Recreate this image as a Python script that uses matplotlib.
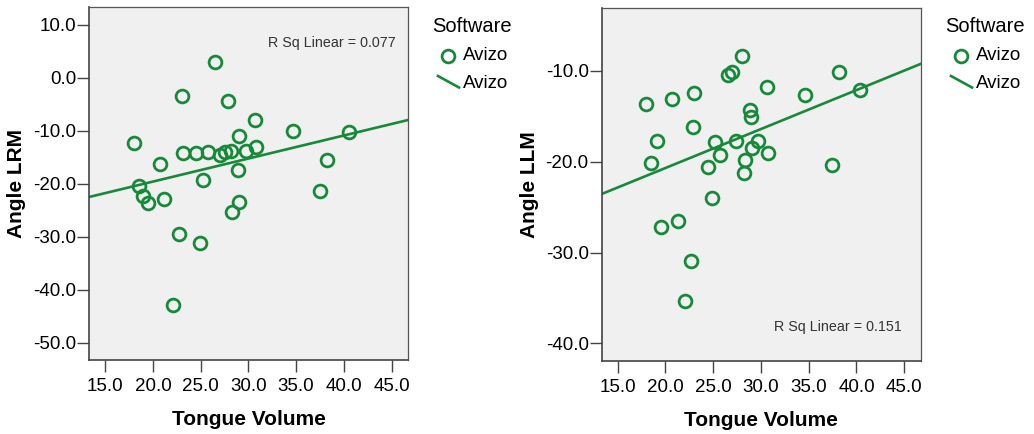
import numpy as np
import matplotlib
matplotlib.use("Agg")
import matplotlib.pyplot as plt
from matplotlib.lines import Line2D

plt.rcParams["font.family"] = ["Liberation Sans", "DejaVu Sans"]
plt.rcParams["axes.unicode_minus"] = False

# Tongue volume vs. angle, left (LRM) and right (LLM) measurements
volume_lrm = [18.0, 18.5, 19.0, 19.5, 21.2, 20.7, 23.0, 23.1, 24.5, 25.8,
              25.2, 26.5, 27.9, 27.0, 27.5, 28.2, 29.0, 29.7, 28.9, 30.7,
              30.8, 34.7, 40.5, 38.2, 37.5, 29.0, 28.3, 22.7, 24.9, 22.1]
angle_lrm = [-12.4, -20.4, -22.3, -23.7, -22.9, -16.3, -3.4, -14.2, -14.2, -14.1,
             -19.4, 3.0, -4.3, -14.6, -14.1, -13.8, -11.0, -13.8, -17.4, -7.9,
             -13.1, -10.1, -10.2, -15.5, -21.4, -23.5, -25.3, -29.6, -31.3, -42.9]

volume_llm = [18.0, 19.1, 18.5, 20.7, 23.0, 22.9, 25.2, 25.7, 24.5, 24.9,
              26.5, 27.0, 28.0, 27.4, 28.9, 29.0, 29.7, 29.1, 28.3, 28.2,
              30.7, 30.6, 34.6, 38.2, 40.4, 37.4, 19.5, 21.3, 22.7, 22.1]
angle_llm = [-13.6, -17.7, -20.1, -13.1, -12.4, -16.2, -17.8, -19.3, -20.6, -24.0,
             -10.4, -10.1, -8.4, -17.7, -14.3, -15.1, -17.7, -18.5, -19.8, -21.2,
             -19.0, -11.8, -12.6, -10.1, -12.1, -20.4, -27.2, -26.5, -30.9, -35.3]

x_ticks = [15.0, 20.0, 25.0, 30.0, 35.0, 40.0, 45.0]
y_ticks_lrm = [10.0, 0.0, -10.0, -20.0, -30.0, -40.0, -50.0]
y_ticks_llm = [-10.0, -20.0, -30.0, -40.0]

r2_text_lrm = "R Sq Linear = 0.077"
r2_text_llm = "R Sq Linear = 0.151"
legend_title = "Software"
group_label = "Avizo"

GREEN = "#178a3a"
FACE = "#f0f0f0"
W, H = 1034, 434
MS, MEW, LW = 9.2, 2.0, 1.9

fig = plt.figure(figsize=(W / 100, H / 100), dpi=100)


def fx(px):
    return px / W


def fy(py):
    return 1 - py / H


def panel(rect, xs, ys, yticks, ylim, ylabel, r2, r2_pos):
    ax = fig.add_axes(rect)
    ax.set_facecolor(FACE)
    ax.plot(xs, ys, linestyle="none", marker="o", markersize=MS,
            markerfacecolor="none", markeredgecolor=GREEN, markeredgewidth=MEW,
            zorder=3)
    xlim = (13.33, 46.72)
    slope, intercept = np.polyfit(xs, ys, 1)
    xl = np.array(xlim)
    ax.plot(xl, slope * xl + intercept, color=GREEN, linewidth=LW, zorder=2)
    ax.set_xlim(*xlim)
    ax.set_ylim(*ylim)
    ax.set_xticks(x_ticks)
    ax.set_xticklabels([f"{t:.1f}" for t in x_ticks])
    ax.set_yticks(yticks)
    ax.set_yticklabels([f"{t:.1f}" for t in yticks])
    ax.tick_params(axis="both", direction="out", length=8.6, width=1.0,
                   color="#444444", labelsize=13.5, labelcolor="black")
    ax.tick_params(axis="x", pad=4.5)
    ax.tick_params(axis="y", pad=0.8)
    for side in ("left", "bottom"):
        ax.spines[side].set_color("#444444")
        ax.spines[side].set_linewidth(1.2)
    for side in ("top", "right"):
        ax.spines[side].set_color("#555555")
        ax.spines[side].set_linewidth(0.9)
    ax.set_xlabel("Tongue Volume", fontsize=15, fontweight="bold")
    ax.set_ylabel(ylabel, fontsize=15, fontweight="bold")
    ax.xaxis.set_label_coords(0.5, -0.142)
    ax.yaxis.set_label_coords(-0.198, 0.5)
    ax.text(r2_pos[0], r2_pos[1], r2, transform=ax.transAxes, fontsize=10.3,
            color="#333333", ha="right", va="center")
    return ax


panel([fx(89.3), fy(360), fx(408) - fx(89.3), fy(7.3) - fy(360)],
      volume_lrm, angle_lrm, y_ticks_lrm, (-53.3, 13.3), "Angle LRM",
      r2_text_lrm, (0.962, 0.898))
panel([fx(601.7), fy(361), fx(920.7) - fx(601.7), fy(8.3) - fy(361)],
      volume_llm, angle_llm, y_ticks_llm, (-41.94, -3.1), "Angle LLM",
      r2_text_llm, (0.94, 0.095))


def legend(x0):
    fig.text(fx(x0), fy(27), legend_title, fontsize=14.5, ha="left",
             va="center", color="black")
    fig.add_artist(Line2D([fx(x0 + 16)], [fy(56)], linestyle="none",
                          marker="o", markersize=MS, markerfacecolor="none",
                          markeredgecolor=GREEN, markeredgewidth=MEW,
                          transform=fig.transFigure))
    fig.text(fx(x0 + 31), fy(56), group_label, fontsize=13.5, ha="left",
             va="center", color="black")
    fig.add_artist(Line2D([fx(x0 + 6), fx(x0 + 27)], [fy(76), fy(87.5)],
                          color=GREEN, linewidth=LW,
                          transform=fig.transFigure))
    fig.text(fx(x0 + 31), fy(83), group_label, fontsize=13.5, ha="left",
             va="center", color="black")


legend(432)
legend(945)

fig.savefig("out.png", dpi=100, facecolor="white")
